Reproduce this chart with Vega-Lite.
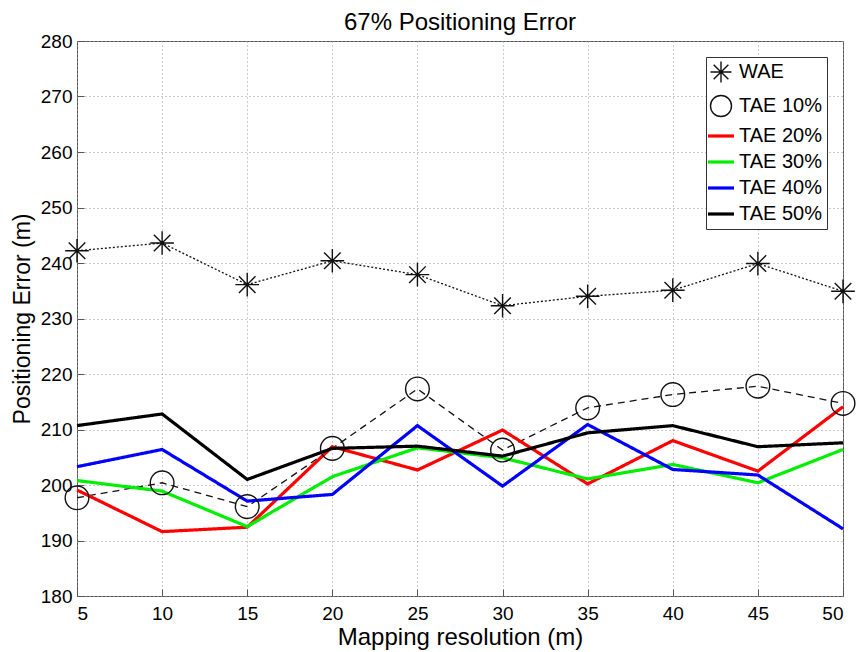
{
  "$schema": "https://vega.github.io/schema/vega-lite/v6.json",
  "width": 766,
  "height": 555,
  "autosize": {"type": "none"},
  "padding": {"left": 77, "top": 41, "right": 13, "bottom": 56},
  "background": "white",
  "title": {"text": "67% Positioning Error", "fontSize": 24, "font": "Liberation Sans", "fontWeight": "normal", "anchor": "middle", "frame": "group", "offset": -3, "color": "black"},
  "config": {
    "view": {"stroke": "#555", "strokeWidth": 1},
    "font": "Liberation Sans",
    "axis": {
      "domain": false,
      "grid": true,
      "gridColor": "#999",
      "gridDash": [1, 3],
      "gridOpacity": 1,
      "tickColor": "#555",
      "tickSize": -7,
      "labelFont": "Liberation Sans",
      "labelFontSize": 19,
      "labelColor": "black",
      "titleFont": "Liberation Sans",
      "titleFontWeight": "normal",
      "titleColor": "black"
    }
  },
  "data": {
    "values": [
      {"x": 5, "series": "WAE", "value": 242.2},
      {"x": 10, "series": "WAE", "value": 243.6},
      {"x": 15, "series": "WAE", "value": 236.1},
      {"x": 20, "series": "WAE", "value": 240.4},
      {"x": 25, "series": "WAE", "value": 237.9},
      {"x": 30, "series": "WAE", "value": 232.3},
      {"x": 35, "series": "WAE", "value": 234.0},
      {"x": 40, "series": "WAE", "value": 235.1},
      {"x": 45, "series": "WAE", "value": 239.9},
      {"x": 50, "series": "WAE", "value": 234.9},
      {"x": 5, "series": "TAE 10%", "value": 197.7},
      {"x": 10, "series": "TAE 10%", "value": 200.4},
      {"x": 15, "series": "TAE 10%", "value": 196.1},
      {"x": 20, "series": "TAE 10%", "value": 206.6},
      {"x": 25, "series": "TAE 10%", "value": 217.3},
      {"x": 30, "series": "TAE 10%", "value": 206.3},
      {"x": 35, "series": "TAE 10%", "value": 213.9},
      {"x": 40, "series": "TAE 10%", "value": 216.3},
      {"x": 45, "series": "TAE 10%", "value": 217.8},
      {"x": 50, "series": "TAE 10%", "value": 214.7},
      {"x": 5, "series": "TAE 20%", "value": 199.1},
      {"x": 10, "series": "TAE 20%", "value": 191.6},
      {"x": 15, "series": "TAE 20%", "value": 192.4},
      {"x": 20, "series": "TAE 20%", "value": 206.9},
      {"x": 25, "series": "TAE 20%", "value": 202.7},
      {"x": 30, "series": "TAE 20%", "value": 209.9},
      {"x": 35, "series": "TAE 20%", "value": 200.2},
      {"x": 40, "series": "TAE 20%", "value": 208.0},
      {"x": 45, "series": "TAE 20%", "value": 202.5},
      {"x": 50, "series": "TAE 20%", "value": 214.1},
      {"x": 5, "series": "TAE 30%", "value": 200.8},
      {"x": 10, "series": "TAE 30%", "value": 198.9},
      {"x": 15, "series": "TAE 30%", "value": 192.5},
      {"x": 20, "series": "TAE 30%", "value": 201.5},
      {"x": 25, "series": "TAE 30%", "value": 206.7},
      {"x": 30, "series": "TAE 30%", "value": 204.9},
      {"x": 35, "series": "TAE 30%", "value": 201.1},
      {"x": 40, "series": "TAE 30%", "value": 203.7},
      {"x": 45, "series": "TAE 30%", "value": 200.4},
      {"x": 50, "series": "TAE 30%", "value": 206.4},
      {"x": 5, "series": "TAE 40%", "value": 203.3},
      {"x": 10, "series": "TAE 40%", "value": 206.4},
      {"x": 15, "series": "TAE 40%", "value": 197.1},
      {"x": 20, "series": "TAE 40%", "value": 198.3},
      {"x": 25, "series": "TAE 40%", "value": 210.7},
      {"x": 30, "series": "TAE 40%", "value": 199.8},
      {"x": 35, "series": "TAE 40%", "value": 210.9},
      {"x": 40, "series": "TAE 40%", "value": 202.8},
      {"x": 45, "series": "TAE 40%", "value": 201.8},
      {"x": 50, "series": "TAE 40%", "value": 192.1},
      {"x": 5, "series": "TAE 50%", "value": 210.7},
      {"x": 10, "series": "TAE 50%", "value": 212.8},
      {"x": 15, "series": "TAE 50%", "value": 201.0},
      {"x": 20, "series": "TAE 50%", "value": 206.6},
      {"x": 25, "series": "TAE 50%", "value": 207.0},
      {"x": 30, "series": "TAE 50%", "value": 205.2},
      {"x": 35, "series": "TAE 50%", "value": 209.4},
      {"x": 40, "series": "TAE 50%", "value": 210.7},
      {"x": 45, "series": "TAE 50%", "value": 206.9},
      {"x": 50, "series": "TAE 50%", "value": 207.6}
    ]
  },
  "encoding": {
    "x": {
      "field": "x", "type": "quantitative",
      "scale": {"domain": [5, 50], "nice": false, "zero": false},
      "axis": {"values": [5, 10, 15, 20, 25, 30, 35, 40, 45, 50], "title": "Mapping resolution (m)", "titleFontSize": 24, "labelPadding": 15, "titlePadding": 2}
    },
    "y": {
      "field": "value", "type": "quantitative",
      "scale": {"domain": [180, 280], "nice": false, "zero": false},
      "axis": {"values": [180, 190, 200, 210, 220, 230, 240, 250, 260, 270, 280], "title": "Positioning Error (m)", "titleFontSize": 23, "labelPadding": 12, "titlePadding": 6}
    },
    "color": {
      "field": "series", "type": "nominal",
      "scale": {"domain": ["WAE", "TAE 10%", "TAE 20%", "TAE 30%", "TAE 40%", "TAE 50%"], "range": ["#111111", "#111111", "#ff0000", "#00ee00", "#0000ff", "#000000"]},
      "legend": {
        "title": null,
        "orient": "top-right",
        "offset": 16,
        "fillColor": "white",
        "strokeColor": "#333",
        "padding": 5,
        "labelFont": "Liberation Sans",
        "labelFontSize": 20,
        "labelColor": "black",
        "symbolSize": 729,
        "rowPadding": 6,
        "labelOffset": 8,
        "encode": {
          "symbols": {
            "update": {
              "strokeWidth": {"signal": "datum.value === 'WAE' || datum.value === 'TAE 10%' ? 1.4 : 3.2"},
              "size": {"signal": "datum.value === 'WAE' || datum.value === 'TAE 10%' ? 441 : 676"},
              "fill": {"value": "transparent"}
            }
          }
        }
      }
    }
  },
  "layer": [
    {
      "mark": {"type": "line"},
      "encoding": {
        "strokeDash": {
          "condition": [
            {"test": "datum.series !== 'WAE' && datum.series !== 'TAE 10%'", "value": [1, 0]},
            {"test": "datum.series === 'WAE'", "value": [2, 2]}
          ],
          "value": [7, 5]
        },
        "strokeWidth": {
          "condition": {"test": "datum.series === 'WAE' || datum.series === 'TAE 10%'", "value": 1.3},
          "value": 3.2
        }
      }
    },
    {
      "transform": [{"filter": {"field": "series", "oneOf": ["WAE", "TAE 10%"]}}],
      "mark": {"type": "point", "filled": false, "size": 560, "strokeWidth": 1.4, "opacity": 1},
      "encoding": {
        "shape": {
          "field": "series", "type": "nominal",
          "scale": {"domain": ["WAE", "TAE 10%", "TAE 20%", "TAE 30%", "TAE 40%", "TAE 50%"], "range": ["M-1,0L1,0M0,-1L0,1M-0.7,-0.7L0.7,0.7M-0.7,0.7L0.7,-0.7", "circle", "stroke", "stroke", "stroke", "stroke"]},
          "legend": {"title": null}
        }
      }
    }
  ]
}
